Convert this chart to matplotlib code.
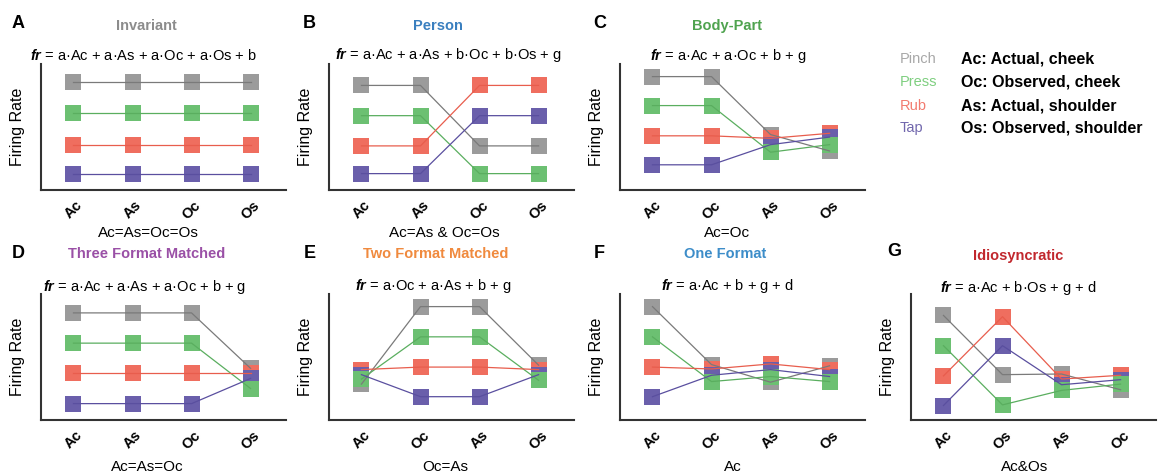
import numpy as np
import matplotlib.pyplot as plt

plt.rcParams['font.family'] = 'Liberation Sans'
plt.rcParams['mathtext.fontset'] = 'custom'
plt.rcParams['mathtext.rm'] = 'Liberation Sans'
plt.rcParams['mathtext.it'] = 'Liberation Sans:italic'
plt.rcParams['mathtext.bf'] = 'Liberation Sans:bold'
plt.rcParams['mathtext.bfit'] = 'Liberation Sans:italic:bold'

# gestures: Pinch, Press, Rub, Tap
gestures = ["Pinch", "Press", "Rub", "Tap"]
square_colors = ["#9b9b9b", "#6cc072", "#ef6e5f", "#6a5fab"]
line_colors = ["#7a7a7a", "#5aae5f", "#e85d4d", "#5a4f9f"]
label_colors = ["#a8a8a8", "#7fcf80", "#f27b6f", "#7167ad"]
marker_z = [2.0, 2.3, 2.1, 2.2]

conditions = ["Ac: Actual, cheek", "Oc: Observed, cheek",
              "As: Actual, shoulder", "Os: Observed, shoulder"]

# firing rates, one row per gesture (Pinch, Press, Rub, Tap)
A_cats = ["Ac", "As", "Oc", "Os"]
A_rates = [[8.6, 8.6, 8.6, 8.6],
           [6.1, 6.1, 6.1, 6.1],
           [3.6, 3.6, 3.6, 3.6],
           [1.3, 1.3, 1.3, 1.3]]

B_cats = ["Ac", "As", "Oc", "Os"]
B_rates = [[8.3, 8.3, 3.5, 3.5],
           [5.9, 5.9, 1.3, 1.3],
           [3.5, 3.5, 8.3, 8.3],
           [1.3, 1.3, 5.9, 5.9]]

C_cats = ["Ac", "Oc", "As", "Os"]
C_rates = [[9.0, 9.0, 4.4, 3.1],
           [6.7, 6.7, 3.0, 3.6],
           [4.3, 4.3, 4.1, 4.5],
           [2.0, 2.0, 3.6, 4.2]]

D_cats = ["Ac", "As", "Oc", "Os"]
D_rates = [[8.5, 8.5, 8.5, 4.1],
           [6.1, 6.1, 6.1, 2.5],
           [3.7, 3.7, 3.7, 3.7],
           [1.3, 1.3, 1.3, 3.3]]

E_cats = ["Ac", "Oc", "As", "Os"]
E_rates = [[2.85, 9.0, 9.0, 4.35],
           [3.25, 6.6, 6.6, 3.15],
           [4.0, 4.2, 4.2, 4.0],
           [3.6, 1.85, 1.85, 3.6]]

F_cats = ["Ac", "Oc", "As", "Os"]
F_rates = [[9.0, 4.4, 3.0, 4.3],
           [6.6, 3.05, 3.45, 3.05],
           [4.2, 4.05, 4.45, 4.0],
           [1.85, 3.55, 4.0, 3.45]]

G_cats = ["Ac", "Os", "As", "Oc"]
G_rates = [[8.3, 3.6, 3.65, 2.4],
           [5.9, 1.2, 2.35, 2.85],
           [3.5, 8.2, 3.25, 3.55],
           [1.15, 5.9, 2.8, 3.2]]

W, H = 1158, 476
AX_W, AX_H = 245, 126

fig = plt.figure(figsize=(W / 100, H / 100), dpi=100)


def fx(px):
    return px / W


def fy(py):
    return 1 - py / H


def panel(left, top, cats, rates):
    ax = fig.add_axes([fx(left), fy(top + AX_H), AX_W / W, AX_H / H])
    x = np.arange(len(cats))
    for i in range(len(rates)):
        ax.plot(x, rates[i], ls="none", marker="s", ms=11, mew=0,
                color=square_colors[i], zorder=marker_z[i], clip_on=False)
    for i in range(len(rates)):
        ax.plot(x, rates[i], lw=0.9, color=line_colors[i], zorder=3,
                clip_on=False)
    ax.set_xlim(-0.55, 3.6)
    ax.set_ylim(0, 10)
    ax.set_yticks([])
    ax.set_xticks(x, labels=cats, rotation=45, ha="center",
                  fontweight="bold", fontsize=10.5)
    ax.tick_params(axis="x", length=0, pad=6)
    ax.spines[["top", "right"]].set_visible(False)
    for s in ["left", "bottom"]:
        ax.spines[s].set_linewidth(1.5)
        ax.spines[s].set_color("#333333")
    ax.set_ylabel("Firing Rate", fontsize=11.5)
    ax.yaxis.set_label_coords(-0.065, 0.5)
    return ax


def texts(letter, lpos, title, color, tpos, formula, fpos, xlab, xpos):
    fig.text(fx(lpos[0]), fy(lpos[1]), letter, fontsize=13,
             fontweight="bold", ha="left", va="center")
    fig.text(fx(tpos[0]), fy(tpos[1]), title, fontsize=10.5,
             fontweight="bold", color=color, ha="center", va="center")
    fig.text(fx(fpos[0]), fy(fpos[1]), formula, fontsize=10.5,
             ha="center", va="center")
    fig.text(fx(xpos[0]), fy(xpos[1]), xlab, fontsize=11,
             ha="center", va="center")


panel(41, 64, A_cats, A_rates)
texts("A", (12, 23), "Invariant", "#8c8c8c", (146, 26),
      r"$\mathbfit{fr}$ = a·Ac + a·As + a·Oc + a·Os + b", (143, 55),
      "Ac=As=Oc=Os", (148, 233))

panel(329, 64, B_cats, B_rates)
texts("B", (303, 23), "Person", "#3a7fbf", (438, 26),
      r"$\mathbfit{fr}$ = a·Ac + a·As + b·Oc + b·Os + g", (448, 55),
      "Ac=As & Oc=Os", (444, 233))

panel(620, 64, C_cats, C_rates)
texts("C", (593, 23), "Body-Part", "#4fa34f", (727, 26),
      r"$\mathbfit{fr}$ = a·Ac + a·Oc + b + g", (728, 56),
      "Ac=Oc", (727, 233))

panel(41, 294, D_cats, D_rates)
texts("D", (12, 253), "Three Format Matched", "#9a50a6", (147, 254),
      r"$\mathbfit{fr}$ = a·Ac + a·As + a·Oc + b + g", (145, 287),
      "Ac=As=Oc", (147, 467))

panel(329, 294, E_cats, E_rates)
texts("E", (304, 253), "Two Format Matched", "#f08a3e", (436, 254),
      r"$\mathbfit{fr}$ = a·Oc + a·As + b + g", (433, 286),
      "Oc=As", (445, 467))

panel(620, 294, F_cats, F_rates)
texts("F", (594, 253), "One Format", "#3d8dc9", (725, 254),
      r"$\mathbfit{fr}$ = a·Ac + b + g + d", (727, 286),
      "Ac", (733, 467))

panel(911, 294, G_cats, G_rates)
texts("G", (887, 251), "Idiosyncratic", "#c1272d", (1018, 256),
      r"$\mathbfit{fr}$ = a·Ac + b·Os + g + d", (1018, 288),
      "Ac&Os", (1025, 467))

# key for gestures and conditions
key_y = [59, 82, 106, 128]
for i in range(4):
    fig.text(fx(900), fy(key_y[i]), gestures[i], fontsize=10.5,
             color=label_colors[i], ha="left", va="center")
    fig.text(fx(961), fy(key_y[i]), conditions[i], fontsize=11.5,
             fontweight="bold", ha="left", va="center")

fig.savefig("out.png", dpi=100)
